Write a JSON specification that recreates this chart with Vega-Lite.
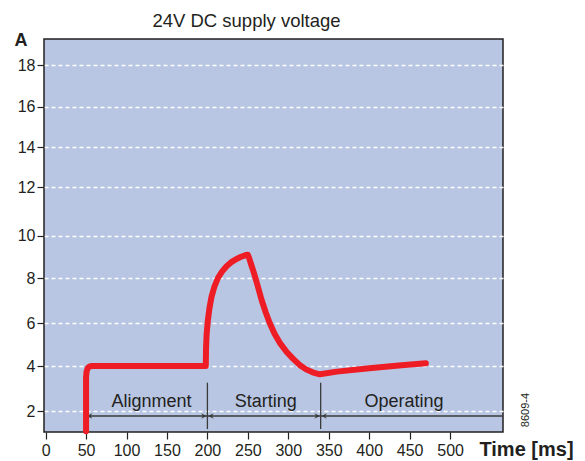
{
  "$schema": "https://vega.github.io/schema/vega-lite/v6.json",
  "width": 459,
  "height": 393,
  "autosize": {"type": "none"},
  "padding": {"left": 44, "top": 39, "right": 82, "bottom": 29},
  "background": "white",
  "config": {
    "view": {"fill": "#b8c6e3", "stroke": "#231f20", "strokeWidth": 1.5},
    "font": "Liberation Sans"
  },
  "title": {
    "text": "24V DC supply voltage",
    "fontSize": 18.5,
    "fontWeight": "normal",
    "color": "#231f20",
    "font": "Liberation Sans",
    "anchor": "middle",
    "frame": "group",
    "dx": -27,
    "dy": 26,
    "baseline": "bottom",
    "offset": 8
  },
  "datasets": {
    "current": [
      {"i": 0, "t": 50, "a": 1.1},
      {"i": 1, "t": 50, "a": 3.5},
      {"i": 2, "t": 50.6, "a": 3.75},
      {"i": 3, "t": 52, "a": 3.9},
      {"i": 4, "t": 54, "a": 3.97},
      {"i": 5, "t": 57, "a": 4.0},
      {"i": 6, "t": 198, "a": 4.0},
      {"i": 7, "t": 198.3, "a": 4.8},
      {"i": 8, "t": 199, "a": 5.45},
      {"i": 9, "t": 200.5, "a": 6.1},
      {"i": 10, "t": 202.5, "a": 6.65},
      {"i": 11, "t": 205, "a": 7.15},
      {"i": 12, "t": 208.5, "a": 7.6},
      {"i": 13, "t": 213, "a": 8.0},
      {"i": 14, "t": 218, "a": 8.3},
      {"i": 15, "t": 224, "a": 8.57},
      {"i": 16, "t": 230, "a": 8.76},
      {"i": 17, "t": 236, "a": 8.9},
      {"i": 18, "t": 241, "a": 8.99},
      {"i": 19, "t": 245, "a": 9.05},
      {"i": 20, "t": 248, "a": 9.09},
      {"i": 21, "t": 250, "a": 9.1},
      {"i": 22, "t": 251.5, "a": 8.95},
      {"i": 23, "t": 254, "a": 8.65},
      {"i": 24, "t": 257, "a": 8.3},
      {"i": 25, "t": 261, "a": 7.8},
      {"i": 26, "t": 267, "a": 7.02},
      {"i": 27, "t": 272, "a": 6.48},
      {"i": 28, "t": 277, "a": 6.0},
      {"i": 29, "t": 283, "a": 5.5},
      {"i": 30, "t": 290, "a": 5.05},
      {"i": 31, "t": 298, "a": 4.65},
      {"i": 32, "t": 306, "a": 4.33},
      {"i": 33, "t": 314, "a": 4.05},
      {"i": 34, "t": 322, "a": 3.85},
      {"i": 35, "t": 330, "a": 3.72},
      {"i": 36, "t": 339, "a": 3.63},
      {"i": 37, "t": 360, "a": 3.75},
      {"i": 38, "t": 400, "a": 3.9},
      {"i": 39, "t": 440, "a": 4.03},
      {"i": 40, "t": 470, "a": 4.13}
    ],
    "span": [
      {"t": 51, "t2": 565, "a": 1.78}
    ],
    "dividers": [
      {"t": 200, "a": 1.2, "a2": 3.26},
      {"t": 340, "a": 1.2, "a2": 3.26}
    ],
    "heads": [
      {"t": 51, "dir": "left", "a": 1.78},
      {"t": 199, "dir": "right", "a": 1.78},
      {"t": 201, "dir": "left", "a": 1.78},
      {"t": 339, "dir": "right", "a": 1.78},
      {"t": 341, "dir": "left", "a": 1.78}
    ],
    "phases": [
      {"label": "Alignment", "t": 131, "a": 2.41},
      {"label": "Starting", "t": 272, "a": 2.41},
      {"label": "Operating", "t": 443, "a": 2.41}
    ]
  },
  "layer": [
    {
      "data": {"name": "span"},
      "mark": {"type": "rule", "color": "#3a3a3a", "strokeWidth": 1.5},
      "encoding": {
        "x": {
          "field": "t",
          "type": "quantitative",
          "scale": {"domain": [-2, 565.4], "nice": false, "zero": false},
          "axis": {
            "values": [0, 50, 100, 150, 200, 250, 300, 350, 400, 450, 500],
            "title": "Time [ms]",
            "titleFont": "Liberation Sans",
            "titleFontWeight": "bold",
            "titleFontSize": 20,
            "titleColor": "#231f20",
            "titleX": 482,
            "titleY": 23,
            "titleAlign": "center",
            "titleBaseline": "alphabetic",
            "grid": false,
            "domain": false,
            "tickColor": "#231f20",
            "tickSize": 7,
            "tickWidth": 1.2,
            "labelFontSize": 16,
            "labelColor": "#231f20",
            "labelPadding": 3,
            "labelFlush": false
          }
        },
        "x2": {"field": "t2"},
        "y": {
          "field": "a",
          "type": "quantitative",
          "scale": {
            "domain": [1.07, 2, 4, 6, 8, 10, 12, 14, 16, 18, 19.26],
            "range": [393, 372, 327, 284, 239, 196.7, 148.3, 108, 67.7, 26, 0],
            "nice": false,
            "zero": false
          },
          "axis": {
            "values": [2, 4, 6, 8, 10, 12, 14, 16, 18],
            "title": "A",
            "titleFont": "Liberation Sans",
            "titleAngle": 0,
            "titleX": -23.5,
            "titleY": 6,
            "titleAlign": "center",
            "titleBaseline": "alphabetic",
            "titleFontWeight": "bold",
            "titleFontSize": 18,
            "titleColor": "#231f20",
            "grid": true,
            "gridColor": "white",
            "gridDash": [4, 3],
            "gridWidth": 1.3,
            "domain": false,
            "tickColor": "#231f20",
            "tickSize": 7,
            "tickWidth": 1.2,
            "labelFontSize": 16,
            "labelColor": "#231f20",
            "labelPadding": 2
          }
        }
      }
    },
    {
      "data": {"name": "dividers"},
      "mark": {"type": "rule", "color": "#3a3a3a", "strokeWidth": 1.3},
      "encoding": {
        "x": {"field": "t", "type": "quantitative"},
        "y": {"field": "a", "type": "quantitative"},
        "y2": {"field": "a2"}
      }
    },
    {
      "data": {"name": "heads"},
      "mark": {"type": "point", "filled": true, "color": "#3a3a3a", "size": 30, "opacity": 1},
      "encoding": {
        "x": {"field": "t", "type": "quantitative"},
        "y": {"field": "a", "type": "quantitative"},
        "shape": {
          "field": "dir",
          "type": "nominal",
          "scale": {
            "domain": ["left", "right"],
            "range": ["M0,0L2,-1L1.3,0L2,1Z", "M0,0L-2,-1L-1.3,0L-2,1Z"]
          },
          "legend": null
        }
      }
    },
    {
      "data": {"name": "phases"},
      "mark": {"type": "text", "fontSize": 18, "color": "#231f20", "baseline": "middle", "align": "center", "font": "Liberation Sans"},
      "encoding": {
        "x": {"field": "t", "type": "quantitative"},
        "y": {"field": "a", "type": "quantitative"},
        "text": {"field": "label"}
      }
    },
    {
      "data": {"name": "current"},
      "mark": {"type": "line", "color": "#ee1c25", "strokeWidth": 6, "strokeCap": "round", "strokeJoin": "round"},
      "encoding": {
        "x": {"field": "t", "type": "quantitative"},
        "y": {"field": "a", "type": "quantitative"},
        "order": {"field": "i", "type": "quantitative"}
      }
    },
    {
      "data": {"values": [{}]},
      "mark": {"type": "text", "text": "8609-4", "angle": 270, "fontSize": 11, "color": "#231f20", "align": "center", "baseline": "middle", "font": "Liberation Sans"},
      "encoding": {
        "x": {"datum": 594},
        "y": {"datum": 2.04}
      }
    }
  ]
}
